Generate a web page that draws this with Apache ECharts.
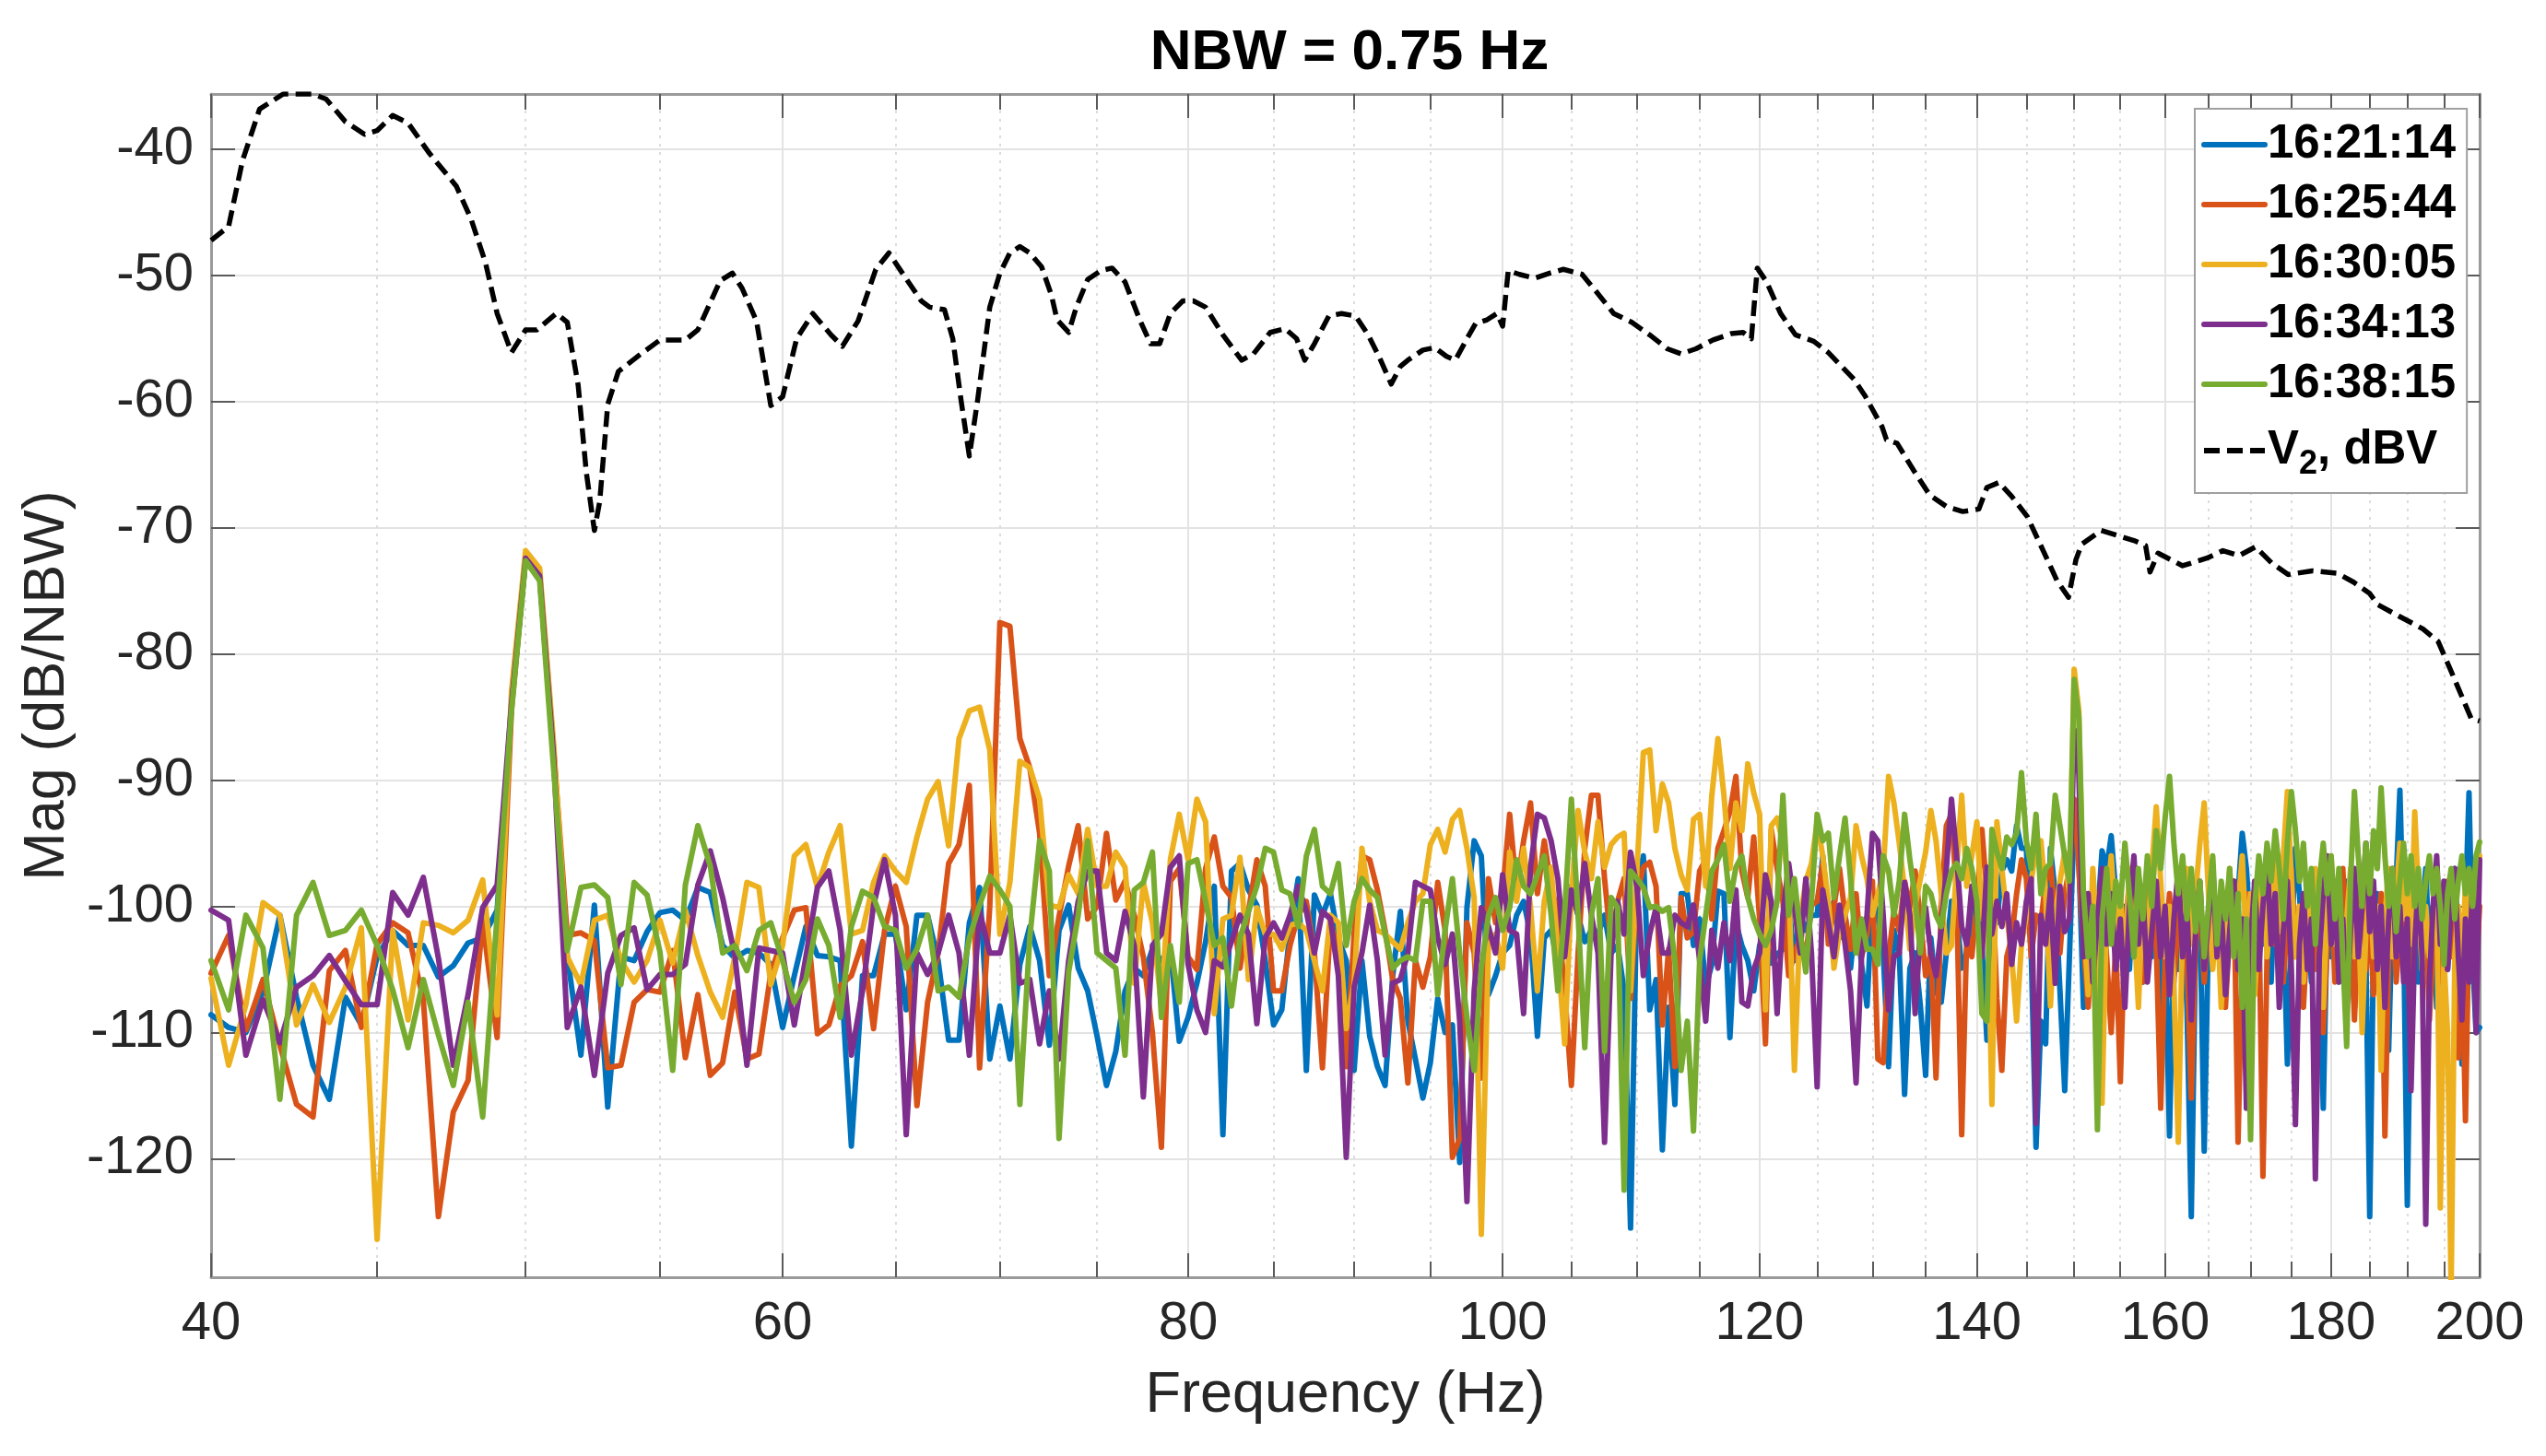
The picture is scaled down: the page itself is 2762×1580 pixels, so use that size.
<!DOCTYPE html>
<html>
<head>
<meta charset="utf-8">
<title>NBW = 0.75 Hz</title>
<script src="https://cdn.jsdelivr.net/npm/echarts@6/dist/echarts.min.js"></script>
<style>
  html, body { margin: 0; padding: 0; background: #fff; }
  #main { width: 2762px; height: 1580px; }
</style>
</head>
<body>
<div id="main"></div>
<script>
// spectra are sampled every 0.5 Hz from 40 Hz to 200 Hz
var FREQ_START = 40;
var FREQ_STEP = 0.5;

var xTicks = [40, 60, 80, 100, 120, 140, 160, 180, 200];
var xMinorTicks = [45, 50, 55, 65, 70, 75, 85, 90, 95, 105, 110, 115, 125, 130, 135,
  145, 150, 155, 165, 170, 175, 185, 190, 195];
var yTicks = [-120, -110, -100, -90, -80, -70, -60, -50, -40];

var seriesNames = ['16:21:14', '16:25:44', '16:30:05', '16:34:13', '16:38:15', 'V2, dBV'];

// dB/NBW, one value per 0.5 Hz bin
var mag162114 = [
  -108.6, -109.6, -110, -106.8, -100.7, -107.2, -112.6, -115.3, -107.2, -109.4,
  -104, -101.9, -103.1, -103.1, -105.6, -104.7, -102.9, -102.5, -100.3, -84,
  -72.5, -73.8, -88, -103.9, -111.8, -99.9, -115.9, -104, -104.3, -102,
  -100.5, -100.3, -101.1, -98.5, -98.9, -103.1, -104.1, -103.5, -103.7, -104.6,
  -109.6, -105.5, -101.6, -103.9, -104, -104.3, -119, -105.5, -105.5, -102.2,
  -102.2, -108.2, -100.7, -100.7, -104.3, -110.6, -110.6, -101.3, -98.5, -112.1,
  -107.9, -112.1, -104.6, -101.6, -104.3, -111, -101.9, -99.9, -104.9, -106.7,
  -110.3, -114.2, -111.5, -106.7, -104.9, -105.5, -103.4, -104.3, -103.4, -110.7,
  -108.8, -106.1, -102.8, -98.4, -118.1, -97.2, -96.6, -98.7, -99.9, -104.3,
  -109.4, -108.2, -101.9, -97.8, -113, -99.1, -100.7, -99, -102.5, -104.3,
  -113, -104.3, -110.3, -112.7, -114.2, -105.5, -100.4, -109.1, -112.1, -115.2,
  -112.4, -107.3, -110, -109.4, -120.3, -100.1, -94.8, -96, -107, -105.5,
  -103.7, -103.1, -100.7, -99.6, -102.2, -110.3, -102.5, -101.9, -104.6, -101.3,
  -98.4, -100.7, -102.8, -101.9, -102.2, -100.7, -103.7, -103.1, -106.7, -125.5,
  -98.4, -96, -108.2, -105.8, -119.3, -108, -115.7, -99, -99, -103.1,
  -101, -106.4, -104.6, -98.8, -99, -110.4, -101.3, -103.1, -104.3, -106.7,
  -103.1, -102.2, -104.5, -103.8, -103.4, -99.6, -104.3, -100.7, -101.9, -100.7,
  -100.7, -96, -100.7, -99.6, -102.5, -100.7, -104.9, -100.4, -104.6, -107.9,
  -99.3, -100.7, -103.7, -112.7, -101.9, -103.7, -114.9, -104.9, -103.7, -107.9,
  -113.4, -102.5, -106.7, -107.6, -103.7, -99.6, -100.7, -104.9, -103.7, -100.7,
  -99, -103.1, -110.6, -100.7, -101.3, -97.2, -96.3, -97.2, -93.6, -95.4,
  -95.4, -103.7, -119.1, -109.1, -110.9, -95.4, -99, -106.7, -114.6, -104,
  -93, -96, -108, -99, -104, -101, -95.6, -97, -94.4, -99,
  -103, -100, -105, -98, -102, -106, -101, -104, -99, -108,
  -103, -118.2, -101, -105, -99, -108, -124.6, -103, -100, -119.4,
  -102, -98, -104, -100, -107, -101, -103, -99, -94.2, -97,
  -102, -105, -99, -103, -101, -106, -98, -104, -101, -112.5,
  -103, -95.4, -99, -104, -101, -106, -99, -103, -116, -101,
  -104, -99, -106, -101, -98, -103, -108, -100, -97, -104,
  -124.6, -103, -99, -105, -101, -111.4, -100, -98, -90.8, -102,
  -123.7, -104, -99, -106, -101, -97, -104, -100, -108, -102,
  -99, -105, -101, -97, -103, -112.5, -100, -91, -104, -110,
  -109.6
];

var mag162544 = [
  -105.3, -102.3, -109.8, -105.8, -111, -115.7, -116.7, -105.1, -103.5, -109.6,
  -103, -101.3, -102.1, -107.4, -124.6, -116.3, -113.8, -101.1, -110.4, -84.5,
  -72.2, -73.6, -87.5, -102.3, -102.1, -102.7, -112.8, -112.6, -107.6, -106.6,
  -106.8, -103.5, -112, -107, -113.4, -112.4, -106.8, -112.1, -111.7, -105.3,
  -102.5, -100.3, -100.1, -110.1, -109.4, -106.3, -105.5, -102.8, -109.7, -101.9,
  -98.4, -101.6, -115.8, -107.6, -103.7, -96.6, -95.1, -90.4, -112.8, -100,
  -77.5, -77.8, -86.7, -89, -94.2, -105.5, -100.8, -96.8, -93.6, -101,
  -100, -94.2, -99.5, -98, -100.7, -104, -110, -119.1, -98, -97,
  -104, -105, -97, -94.5, -98.4, -99.3, -104.9, -100.4, -96.3, -98.4,
  -106.7, -106.7, -103.1, -100.7, -99.6, -103.7, -112.8, -101.3, -103.7, -112.7,
  -102.2, -96, -96.3, -98.7, -101.9, -105.8, -107.3, -114, -104.3, -106.4,
  -104, -98.1, -101.9, -119.9, -118.4, -101.3, -103.7, -113.6, -97.8, -101.3,
  -99, -92.7, -98.7, -94.8, -91.8, -99, -94.8, -98.4, -100.7, -106.7,
  -114.2, -103.7, -95.4, -91.2, -91.2, -97.8, -103.1, -99.6, -97.8, -107.3,
  -99, -96.9, -96.5, -98.4, -109.4, -103.4, -112.7, -99.3, -102.5, -102,
  -97.2, -96.3, -101, -95.4, -94, -92.5, -89.7, -97.2, -99.3, -94.5,
  -101, -110.9, -93.9, -97, -99.6, -105.5, -103.7, -102.5, -104, -99.9,
  -99.6, -96.6, -103, -100.1, -97, -100.7, -103.4, -99, -104, -102.2,
  -98, -112.1, -112.4, -104, -100.4, -101.9, -98, -100.1, -97.2, -101,
  -105.5, -103.7, -113.6, -100, -93.6, -92.7, -99, -118.1, -102.2, -104,
  -99.6, -93.9, -99, -97.2, -107.3, -113, -104, -102.5, -99, -96.3,
  -97.8, -104, -100.7, -101.3, -98, -96.6, -101, -103.7, -99, -97,
  -91.5, -97, -103, -108, -101, -105, -99, -104, -110, -103,
  -113.9, -102, -98, -104, -100, -106, -101, -97, -103, -116,
  -104, -99, -106, -101, -98, -104, -115.2, -103, -99, -106,
  -101, -97, -104, -100, -108, -102, -98, -118.7, -104, -99,
  -102, -106, -100, -121.4, -104, -98, -103, -99, -106, -101,
  -97, -104, -100, -108, -102, -98, -105, -101, -110, -103,
  -99, -106, -101, -97, -104, -100, -109, -102, -98, -105,
  -101, -107, -103, -99, -118.2, -104, -100, -106, -102, -97,
  -104, -110, -101, -98, -105, -101, -109, -103, -99, -106,
  -102, -98, -104, -100, -112, -103, -117, -101, -99, -105,
  -100
];

var mag163005 = [
  -105.7, -112.6, -107.8, -99.7, -100.7, -109.4, -106.2, -109.2, -106.4, -101.7,
  -126.4, -101.9, -109, -101.3, -101.5, -102.1, -101.1, -97.9, -108.6, -83,
  -71.8, -73.2, -87, -104, -106.2, -101.1, -100.7, -104.3, -106, -104.3,
  -101.1, -104.5, -100.3, -103.9, -106.8, -108.8, -104, -98.1, -98.5, -106.2,
  -103.1, -96, -95.1, -98.5, -95.7, -93.6, -102.2, -101.9, -98.1, -96,
  -97.2, -98.1, -94.5, -91.5, -90.1, -95.2, -86.7, -84.5, -84.2, -87.6,
  -102.2, -98.1, -88.5, -89, -91.5, -99.9, -100.1, -97.5, -99, -93.9,
  -98.4, -98.4, -95.7, -96.9, -106.1, -98.1, -101.3, -107.9, -96.3, -92.7,
  -96.3, -91.5, -93.3, -108.5, -101, -100.7, -96.1, -105.8, -100.1, -102.2,
  -102.2, -103.4, -101.5, -101.3, -101.9, -104.3, -106.7, -100.7, -101.3, -109.7,
  -106.1, -95.4, -99.6, -101.9, -102.2, -102.8, -103.4, -101.3, -99.6, -99,
  -95.1, -93.9, -95.7, -93.1, -92.4, -95.4, -99.3, -126, -103.1, -102.2,
  -104.9, -95.7, -99.6, -95.4, -100.1, -106.7, -99.6, -96.9, -103.7, -110.9,
  -99, -92.4, -95.7, -97.8, -93.3, -96.9, -95.1, -94.5, -94.2, -106.7,
  -97, -87.8, -87.6, -94, -90.3, -91.8, -95.4, -97.5, -98.7, -93.1,
  -92.7, -98.4, -91.2, -86.7, -91.2, -97, -91.8, -94, -88.7, -91,
  -92.7, -108.2, -93.6, -93, -95, -97.8, -113, -101, -98, -96.6,
  -93.3, -96, -99.6, -104.9, -102, -100.7, -99.3, -93.6, -96, -97.8,
  -100.7, -99, -97.2, -89.7, -91.8, -95, -98.7, -103.4, -100, -97.8,
  -95.7, -92.4, -94.8, -99, -103.7, -103.1, -97, -91.2, -98.4, -96,
  -93.3, -101, -97, -115.7, -93.3, -97, -100.7, -104, -109.1, -103,
  -100.7, -98, -95.4, -94.8, -99, -107.9, -100.7, -98, -95.7, -99,
  -81.2, -84.5, -101, -107, -97, -103, -115.6, -100, -96, -102,
  -99, -105, -97, -101, -108, -99, -103, -97, -92.1, -98,
  -104, -100, -106, -118.7, -101, -97, -103, -99, -95, -91.8,
  -99, -105, -100, -108, -102, -97, -104, -100, -96, -103,
  -99, -107, -101, -97, -104, -100, -95, -102, -96, -90.9,
  -98, -104, -100, -106, -99, -103, -97, -101, -108, -100,
  -96, -103, -99, -105, -101, -97, -104, -100, -110, -102,
  -98, -104, -100, -113, -101, -97, -104, -99, -95, -101,
  -97, -103, -92.5, -99, -105, -100, -104, -101, -98, -123.9,
  -104, -110, -130.5, -104, -100, -106, -98, -102, -99, -104,
  -96
];

var mag163413 = [
  -100.3, -101.1, -111.8, -107.4, -110.8, -106.4, -105.5, -103.9, -105.9, -107.8,
  -107.8, -98.9, -100.7, -97.7, -104.1, -112.6, -107, -100.1, -98.3, -84,
  -72.4, -73.8, -88, -109.6, -106.4, -113.4, -105.3, -102.3, -101.7, -106.6,
  -105.4, -105.4, -104.6, -98.3, -95.6, -99.3, -103.9, -112.6, -103.3, -103.5,
  -103.7, -109.4, -104, -98.5, -97.2, -101.9, -111.8, -106.7, -99.9, -96.3,
  -100.7, -118.1, -103.7, -105.4, -103.7, -100.7, -103.7, -111.8, -100.4, -103.7,
  -103.7, -100.7, -106.1, -105.8, -110.9, -106.7, -112.1, -104.3, -99.6, -97.2,
  -97.2, -103.7, -104.3, -100.4, -103.1, -115.1, -103.1, -102.2, -96.9, -96,
  -104.6, -108.2, -110, -104.3, -104.8, -102.8, -100.7, -102.2, -109.3, -102.5,
  -101.3, -102.5, -100.7, -98.4, -100.4, -103.7, -100.4, -101, -105.5, -119.9,
  -106.4, -103.7, -99.9, -104.3, -111.8, -106.1, -105.8, -103.7, -98.1, -98.4,
  -98.7, -102.5, -104.6, -102.2, -109.1, -123.4, -106.7, -100.1, -101.6, -103.7,
  -97.5, -101.9, -102.2, -108.5, -96.9, -92.7, -93, -94.8, -97.8, -104,
  -98.7, -100.7, -96.6, -100.7, -103.7, -118.7, -103.7, -99.6, -102.2, -95.7,
  -98.4, -105.5, -102.2, -100.1, -103.7, -103.7, -100.7, -101.3, -101.6, -99.9,
  -104.3, -109.1, -101.9, -104.9, -101.3, -104.3, -98.7, -107.6, -107.9, -105,
  -103.7, -97.5, -99.6, -108.5, -100.7, -96.6, -100, -103.7, -97.8, -103.7,
  -114.3, -98.7, -101.3, -104, -99.9, -103, -106.7, -114, -104, -100.7,
  -94.2, -94.8, -100.7, -108.2, -104, -103.7, -98.1, -100.7, -108.5, -101.9,
  -100.1, -103.7, -105.5, -101.9, -97, -91.5, -96, -101.6, -103, -98.4,
  -100.7, -104, -96.9, -102.2, -99.6, -101.6, -99, -104.6, -101.3, -103,
  -99.6, -97.8, -117.2, -100.7, -103, -98.7, -106.1, -98.4, -102, -101,
  -86, -89.5, -104, -99, -106, -101, -97, -103, -99, -105,
  -101, -108, -100, -96, -103, -99, -106, -102, -98, -104,
  -100, -107, -101, -97, -104, -100, -109, -102, -98, -105,
  -101, -97, -104, -100, -107, -102, -98, -105, -101, -116,
  -103, -98, -105, -100, -96, -103, -99, -108, -102, -98,
  -105, -117.3, -103, -99, -105, -101, -121.6, -104, -99, -96,
  -103, -99, -106, -101, -108, -102, -97, -104, -100, -95,
  -102, -98, -105, -100, -108, -101, -97, -104, -100, -106,
  -101, -114.6, -103, -98, -104, -125.2, -106, -100, -96, -103,
  -98, -105, -100, -97, -104, -109, -101, -106, -98, -110,
  -96.3
];

var mag163815 = [
  -104.3, -108.2, -100.7, -103.3, -115.3, -100.7, -98.1, -102.3, -101.9, -100.3,
  -103.1, -106.6, -111.2, -105.8, -110.2, -114.2, -107.6, -116.7, -100.7, -84.5,
  -72.6, -74.2, -89, -103.5, -98.5, -98.3, -99.3, -106.2, -98.1, -99.1,
  -103.6, -113, -98.3, -93.6, -96.8, -103.7, -103.1, -105.1, -101.9, -101.3,
  -104.3, -107.6, -105.8, -101, -103.1, -108.8, -101.6, -98.8, -99.3, -101.6,
  -101.9, -104.9, -103.4, -100.7, -106.7, -106.4, -107.2, -102.5, -99.9, -97.6,
  -98.7, -100, -115.7, -102.5, -94.8, -97.2, -118.4, -105.2, -100.7, -94.8,
  -103.7, -104.3, -104.9, -111.8, -98.7, -98.1, -95.7, -108.8, -103.1, -107.6,
  -96.6, -96.3, -99.6, -103.1, -102.5, -107.9, -102.5, -100.4, -98.4, -95.4,
  -95.7, -98.7, -99, -101.6, -96, -93.9, -98.4, -99, -96.6, -103.1,
  -99.6, -97.8, -98.7, -99.3, -102.2, -104.9, -104.3, -104, -104.3, -99.6,
  -99.6, -107, -101.9, -97.8, -103.7, -108.8, -113, -104.9, -100.7, -99.3,
  -101.9, -100.1, -96.3, -98.4, -99, -97.5, -96, -100.7, -106.7, -100.4,
  -91.5, -100.7, -111.2, -100.7, -97.8, -111.5, -99.3, -100.1, -122.5, -97.2,
  -97.8, -98.5, -100.1, -100, -100.4, -100.1, -104.3, -113, -109.1, -117.8,
  -104.3, -100.7, -97.2, -96.3, -95.1, -99.6, -96.9, -96, -99.3, -101,
  -102.2, -103.1, -101.9, -99.6, -91.2, -100.7, -97.8, -102, -105.2, -99.6,
  -92.7, -94.8, -94.2, -99.3, -96, -93, -97.8, -103.7, -101, -103.4,
  -103.4, -104.6, -96, -97.2, -100.7, -98, -92.7, -96.3, -99.3, -103.7,
  -98.4, -99, -100.7, -101.6, -99, -97.2, -96.6, -97.8, -95.4, -97,
  -99.6, -108.5, -109.1, -93.9, -95.7, -97, -94.5, -95.1, -94.2, -89.4,
  -94.8, -97, -92.7, -99, -97, -96.6, -91.2, -93.6, -96, -98,
  -82, -85, -99, -104, -100, -117.7, -101, -97, -103, -98,
  -100, -95, -99, -104, -97, -101, -96, -100, -94, -97,
  -93, -89.7, -95, -99, -96, -101, -97, -102, -98, -104,
  -100, -96, -103, -98, -101, -97, -104, -99, -108, -101,
  -118.5, -100, -96, -99, -95, -98, -94, -97, -101, -95,
  -90.9, -94, -98, -95, -100, -97, -103, -98, -95, -99,
  -96, -101, -97, -104, -111.1, -98, -90.9, -96, -100, -95,
  -99, -94, -97, -90.6, -96, -100, -97, -102, -98, -95,
  -99, -96, -100, -97, -101, -98, -96, -99, -97, -100,
  -104.6, -99, -97, -101, -98, -96, -99, -97, -100, -96,
  -94.9
];

// V2 in dBV, [frequency (Hz), level]
var v2dBV = [
  [40, -47.2], [40.5, -46.1], [40.9, -40.9], [41.4, -36.8], [42.1, -35.6], [43, -35.6],
  [43.4, -36], [44, -37.8], [44.6, -38.8], [45, -38.5], [45.5, -37.3], [46, -37.9],
  [46.7, -40.3], [47.6, -42.9], [48.1, -45.5], [48.6, -49], [49, -53], [49.5, -56.1],
  [50, -54.3], [50.4, -54.3], [51.1, -53], [51.5, -53.7], [51.9, -58.7], [52.2, -65.6],
  [52.5, -70.2], [52.7, -67.9], [53, -60.2], [53.4, -57.6], [54.2, -56.3], [55, -55.1],
  [56, -55.1], [56.5, -54.3], [57.4, -50.4], [57.9, -49.8], [58.3, -51], [58.9, -53.6],
  [59.5, -60.3], [60, -59.6], [60.6, -55], [61.3, -53], [62.1, -54.7], [62.6, -55.6],
  [63.3, -53.6], [64.1, -49.5], [64.7, -48.2], [65.4, -50], [66.2, -52], [66.6, -52.5],
  [67.3, -52.7], [67.7, -55], [68.1, -59.9], [68.5, -64.3], [68.9, -59.9], [69.2, -56.2],
  [69.5, -52.5], [70, -49.8], [70.5, -48.2], [71, -47.7], [71.5, -48.2], [72.1, -49.3],
  [72.6, -51.5], [72.9, -53.5], [73.5, -54.5], [73.9, -52.5], [74.5, -50.3], [75.2, -49.6],
  [75.8, -49.4], [76.5, -50.5], [77.3, -53.5], [77.9, -55.4], [78.4, -55.4], [79, -53],
  [79.7, -52], [80.3, -52], [81, -52.5], [82, -54.7], [83.1, -56.7], [83.8, -56.2],
  [84.8, -54.5], [85.7, -54.2], [86.4, -55], [86.9, -56.7], [87.5, -55.4], [88.4, -53.2],
  [89.2, -53], [90.1, -53.2], [90.9, -54.7], [91.6, -56.4], [92.4, -58.6], [93, -57.2],
  [93.5, -56.7], [94.5, -55.9], [95.3, -55.7], [96.1, -56.4], [96.7, -56.7], [97.5, -55],
  [98.1, -53.8], [98.9, -53.5], [99.6, -53], [100, -54], [100.4, -49.6], [101.2, -49.9],
  [102.3, -50.2], [103.4, -49.8], [104.4, -49.5], [105.8, -49.9], [106.9, -51.3], [108.2, -53],
  [109.6, -53.7], [111, -54.7], [112.4, -55.8], [113.5, -56.2], [114.7, -55.8], [116.1, -55.1],
  [117.6, -54.6], [118.6, -54.5], [119.3, -55], [119.8, -49.4], [120.6, -50.5], [121.8, -53],
  [123.1, -54.7], [124.7, -55.2], [126, -56.1], [127.2, -57.2], [128.3, -58.2], [129.3, -59.5],
  [130.9, -62], [131.3, -63], [132.3, -63.3], [133.9, -65.5], [135.4, -67.4], [137, -68.3],
  [138.6, -68.7], [140.2, -68.5], [141, -66.8], [142.2, -66.4], [143.5, -67.5], [145.1, -69.1],
  [146.8, -71.9], [148.2, -74.2], [149.4, -75.5], [150.2, -72.5], [150.8, -71.3], [152.9, -70.2],
  [154.7, -70.6], [156.5, -71], [157.8, -71.4], [158.3, -73.5], [159.2, -72], [162, -73],
  [164.8, -72.4], [166.7, -71.8], [168.6, -72.2], [170.6, -71.5], [172.6, -72.8], [174.6, -73.7],
  [177.6, -73.4], [180.8, -73.6], [182.9, -74.3], [185, -75.2], [186.1, -76.1], [188.9, -77],
  [192.1, -78], [194.2, -79], [195.8, -81.1], [197.6, -83.5], [198.8, -85.1], [200, -85.3]
];

var chartDom = document.getElementById('main');
var myChart = echarts.init(chartDom);
var option;

var FONT = '"Liberation Sans", Arial, Helvetica, sans-serif';
var AXIS_GRAY = '#9a9a9a';
var TICK_GRAY = '#5a5a5a';
var TEXT_GRAY = '#262626';

var freqs = [];
for (var i = 0; i < mag162114.length; i++) {
  freqs.push(FREQ_START + FREQ_STEP * i);
}
function pairUp(values) {
  return values.map(function (v, k) { return [freqs[k], v]; });
}

// tick/grid axes work in log10(Hz) so they line up with the log axis
var LOG_MIN = Math.log10(40);
var LOG_MAX = Math.log10(200);
var xTicksLog = xTicks.map(function (f) { return Math.log10(f); });
var xMinorLog = xMinorTicks.map(function (f) { return Math.log10(f); });

function tickAxis(position, values, tickLen, labels, split) {
  return {
    type: 'value',
    position: position,
    min: LOG_MIN,
    max: LOG_MAX,
    axisLine: { show: false },
    axisTick: {
      show: true,
      inside: true,
      length: tickLen,
      customValues: values,
      lineStyle: { color: TICK_GRAY, width: 2 }
    },
    axisLabel: labels,
    splitLine: split
  };
}

var colors = ['#0072BD', '#D95319', '#EDB120', '#7E2F8E', '#77AC30'];
var mags = [mag162114, mag162544, mag163005, mag163413, mag163815];

var series = mags.map(function (m, k) {
  return {
    name: seriesNames[k],
    type: 'line',
    xAxisIndex: 0,
    yAxisIndex: 0,
    showSymbol: false,
    symbol: 'none',
    data: pairUp(m),
    lineStyle: { color: colors[k], width: 6, join: 'round', cap: 'round' },
    itemStyle: { color: colors[k] }
  };
});
series.push({
  name: seriesNames[5],
  type: 'line',
  xAxisIndex: 0,
  yAxisIndex: 0,
  showSymbol: false,
  symbol: 'none',
  data: v2dBV,
  lineStyle: { color: '#000', width: 5.5, type: [17, 8], join: 'round' },
  itemStyle: { color: '#000' }
});

option = {
  animation: false,
  backgroundColor: '#fff',
  textStyle: { fontFamily: FONT },
  title: {
    text: 'NBW = 0.75 Hz',
    left: 1459,
    top: 22,
    textAlign: 'center',
    textStyle: { fontFamily: FONT, fontSize: 62, fontWeight: 'bold', color: '#000' }
  },
  legend: {
    orient: 'vertical',
    left: 2381,
    top: 118,
    padding: [13, 12, 13, 7],
    itemGap: 13,
    itemWidth: 66,
    itemHeight: 14,
    backgroundColor: '#fff',
    borderColor: '#a0a0a0',
    borderWidth: 2,
    itemStyle: { opacity: 0, borderWidth: 0 },
    lineStyle: { width: 6 },
    data: seriesNames,
    formatter: function (name) {
      return name === 'V2, dBV' ? 'V{sub|2}, dBV' : name;
    },
    textStyle: {
      fontFamily: FONT,
      fontSize: 51,
      fontWeight: 'bold',
      color: '#000',
      lineHeight: 52,
      padding: [0, 0, 0, -2],
      rich: {
        sub: {
          fontFamily: FONT,
          fontSize: 36,
          fontWeight: 'bold',
          color: '#000',
          lineHeight: 66,
          verticalAlign: 'bottom'
        }
      }
    }
  },
  grid: { left: 229, right: 72, top: 102, bottom: 194 },
  xAxis: [
    {
      type: 'log',
      logBase: 10,
      min: 40,
      max: 200,
      position: 'bottom',
      axisLine: { show: false },
      axisTick: { show: false },
      axisLabel: { show: false },
      splitLine: { show: false }
    },
    // bottom: major ticks, labels, solid grid
    Object.assign(tickAxis('bottom', xTicksLog, 26, {
      show: true,
      customValues: xTicksLog,
      margin: 22,
      fontFamily: FONT,
      fontSize: 58,
      color: TEXT_GRAY,
      formatter: function (v) { return String(Math.round(Math.pow(10, v))); }
    }, {
      show: true,
      lineStyle: { color: '#e3e3e3', width: 2 }
    }), {
      name: 'Frequency (Hz)',
      nameLocation: 'middle',
      nameGap: 97,
      nameTextStyle: { fontFamily: FONT, fontSize: 63, color: TEXT_GRAY },
      axisLine: { show: true, lineStyle: { color: AXIS_GRAY, width: 3 } }
    }),
    // bottom: minor ticks, dotted grid
    tickAxis('bottom', xMinorLog, 17, { show: false }, {
      show: true,
      lineStyle: { color: '#dcdcdc', width: 2, type: [3, 6] }
    }),
    // top border ticks
    Object.assign(tickAxis('top', xTicksLog, 26, { show: false }, { show: false }), {
      axisLine: { show: true, lineStyle: { color: AXIS_GRAY, width: 3 } }
    }),
    tickAxis('top', xMinorLog, 17, { show: false }, { show: false })
  ],
  yAxis: [
    {
      type: 'value',
      position: 'left',
      min: -129.4,
      max: -35.6,
      name: 'Mag (dB/NBW)',
      nameLocation: 'middle',
      nameGap: 136,
      nameTextStyle: { fontFamily: FONT, fontSize: 63, color: TEXT_GRAY },
      axisLine: { show: true, lineStyle: { color: AXIS_GRAY, width: 3 } },
      axisTick: {
        show: true,
        inside: true,
        length: 26,
        customValues: yTicks,
        lineStyle: { color: TICK_GRAY, width: 2 }
      },
      axisLabel: {
        customValues: yTicks,
        margin: 19,
        fontFamily: FONT,
        fontSize: 58,
        color: TEXT_GRAY
      },
      splitLine: { show: true, lineStyle: { color: '#e3e3e3', width: 2 } }
    },
    {
      type: 'value',
      position: 'right',
      min: -129.4,
      max: -35.6,
      axisLine: { show: true, lineStyle: { color: AXIS_GRAY, width: 3 } },
      axisTick: {
        show: true,
        inside: true,
        length: 26,
        customValues: yTicks,
        lineStyle: { color: TICK_GRAY, width: 2 }
      },
      axisLabel: { show: false },
      splitLine: { show: false }
    }
  ],
  series: series
};

option && myChart.setOption(option);
</script>
</body>
</html>
